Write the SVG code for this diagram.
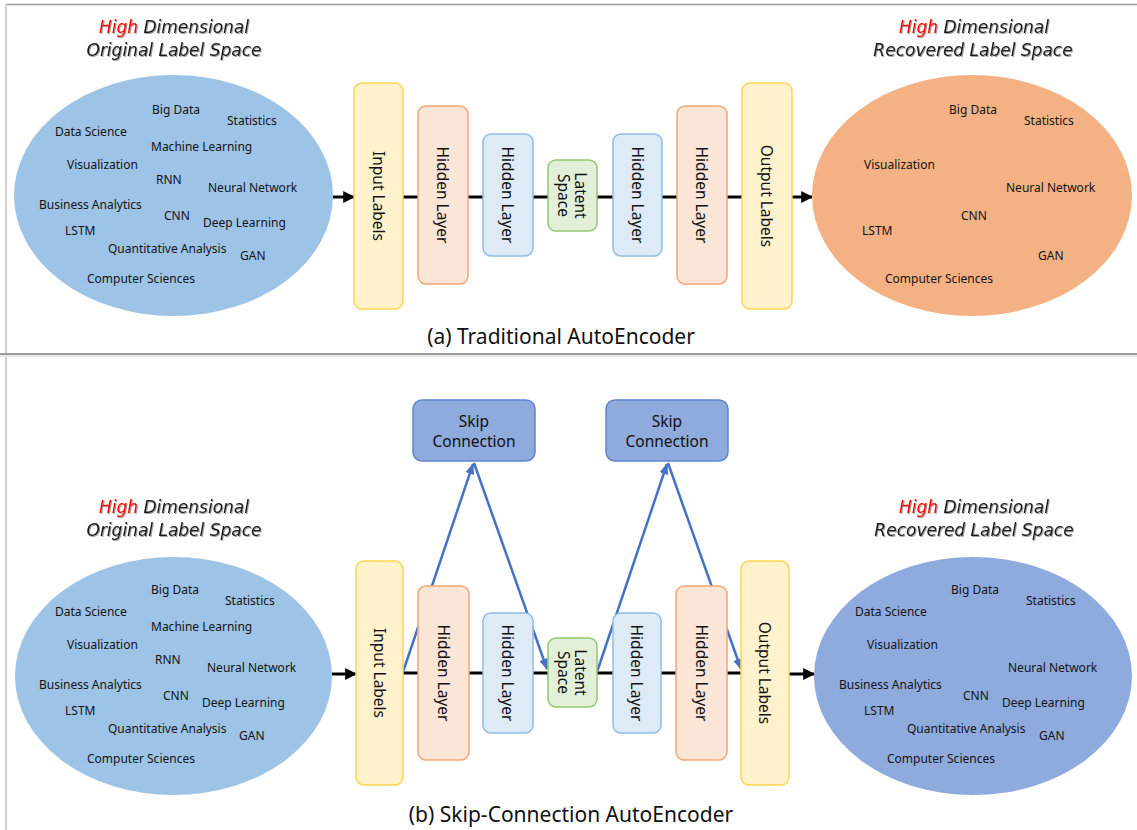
<svg xmlns="http://www.w3.org/2000/svg" width="1137" height="830" viewBox="0 0 1137 830">
  <defs>
    <style>
      .frame { stroke: #999; stroke-width: 1.5; fill: none; }
      .frame-side { stroke: #d0d0d0; stroke-width: 2; fill: none; }
      .word { font-family: "Noto Sans", "Open Sans", sans-serif; font-size: 12px; fill: #141414; }
      .title { font-family: "DejaVu Sans", "Liberation Sans", sans-serif; font-style: italic; font-size: 17px; fill: #1a1a1a; text-anchor: middle; }
      .hi { fill: #ff0000; }
      .caption { font-family: "Noto Sans", "Open Sans", sans-serif; font-size: 21px; fill: #111; text-anchor: middle; }
      .lbl { font-family: "Noto Sans", "Open Sans", sans-serif; font-size: 15.5px; fill: #111; text-anchor: middle; dominant-baseline: central; }
      .io { fill: #fff2cc; stroke: #ffd54f; stroke-width: 1.5; }
      .hid-o { fill: #fbe5d6; stroke: #f4a676; stroke-width: 1.5; }
      .hid-b { fill: #deebf7; stroke: #8fbde6; stroke-width: 1.5; }
      .lat { fill: #e2f0d9; stroke: #92c970; stroke-width: 1.5; }
      .skip { fill: #8faadc; stroke: #5f86d0; stroke-width: 1.5; }
      .main { stroke: #000; stroke-width: 3; fill: none; }
      .sk { stroke: #4472c4; stroke-width: 2.5; fill: none; }
    </style>
    <marker id="arrowBlack" viewBox="0 0 10 10" refX="9" refY="5" markerWidth="4" markerHeight="4" orient="auto" markerUnits="strokeWidth">
      <path d="M0,0 L10,5 L0,10 z" fill="#000"/>
    </marker>
    <marker id="arrowBlue" viewBox="0 0 10 10" refX="9" refY="5" markerWidth="4.5" markerHeight="4.5" orient="auto" markerUnits="strokeWidth">
      <path d="M0,1 L10,5 L0,9 z" fill="#4472c4"/>
    </marker>
    <filter id="shadow" x="-10%" y="-30%" width="120%" height="160%">
      <feDropShadow dx="1" dy="1" stdDeviation="0.6" flood-color="#777" flood-opacity="0.7"/>
    </filter>
  </defs>

  <rect width="1137" height="830" fill="#ffffff"/>

  <!-- panel frame and divider -->
  <line class="frame" x1="5" y1="4.5" x2="1137" y2="4.5"/>
  <line class="frame-side" x1="6" y1="4" x2="6" y2="830"/>
  <line x1="0" y1="354" x2="1137" y2="354" stroke="#999" stroke-width="1.8"/>
  <line x1="0" y1="356" x2="1137" y2="356" stroke="#e2e2e2" stroke-width="1.5"/>

  <!-- ===================== (a) Traditional AutoEncoder ===================== -->
  <g id="connectors-a">
    <line class="main" x1="333" y1="197" x2="354" y2="197" marker-end="url(#arrowBlack)"/>
    <line class="main" x1="403" y1="197" x2="742" y2="197"/>
    <line class="main" x1="792" y1="197" x2="812" y2="197" marker-end="url(#arrowBlack)"/>
  </g>

  <g id="a-original-space">
    <g filter="url(#shadow)">
      <text class="title" x="174" y="33"><tspan class="hi">High</tspan> Dimensional</text>
      <text class="title" x="174" y="56">Original Label Space</text>
    </g>
    <ellipse cx="173.5" cy="195.5" rx="159.5" ry="120.5" fill="#9dc3e6"/>
    <text class="word" x="152" y="114">Big Data</text>
    <text class="word" x="227" y="125">Statistics</text>
    <text class="word" x="55" y="136">Data Science</text>
    <text class="word" x="151" y="151">Machine Learning</text>
    <text class="word" x="67" y="169">Visualization</text>
    <text class="word" x="156" y="184">RNN</text>
    <text class="word" x="208" y="192">Neural Network</text>
    <text class="word" x="39" y="209">Business Analytics</text>
    <text class="word" x="164" y="220">CNN</text>
    <text class="word" x="203" y="227">Deep Learning</text>
    <text class="word" x="65" y="235">LSTM</text>
    <text class="word" x="108" y="253">Quantitative Analysis</text>
    <text class="word" x="240" y="260">GAN</text>
    <text class="word" x="87" y="283">Computer Sciences</text>
  </g>

  <g id="a-input">
    <rect class="io" x="354" y="83" width="49" height="226" rx="8"/>
    <text class="lbl" transform="translate(378.5,196) rotate(90)">Input Labels</text>
  </g>
  <g id="a-hidden1">
    <rect class="hid-o" x="418" y="106" width="50" height="178" rx="8"/>
    <text class="lbl" transform="translate(443,195) rotate(90)">Hidden Layer</text>
  </g>
  <g id="a-hidden2">
    <rect class="hid-b" x="483" y="134" width="50" height="122" rx="8"/>
    <text class="lbl" transform="translate(508,195) rotate(90)">Hidden Layer</text>
  </g>
  <g id="a-latent">
    <rect class="lat" x="548" y="160" width="49" height="71" rx="8"/>
    <text class="lbl" transform="translate(572.5,195.5) rotate(90)"><tspan x="0" y="-8">Latent</tspan><tspan x="0" y="9">Space</tspan></text>
  </g>
  <g id="a-hidden3">
    <rect class="hid-b" x="613" y="134" width="49" height="122" rx="8"/>
    <text class="lbl" transform="translate(637.5,195) rotate(90)">Hidden Layer</text>
  </g>
  <g id="a-hidden4">
    <rect class="hid-o" x="677" y="106" width="50" height="178" rx="8"/>
    <text class="lbl" transform="translate(702,195) rotate(90)">Hidden Layer</text>
  </g>
  <g id="a-output">
    <rect class="io" x="742" y="83" width="50" height="226" rx="8"/>
    <text class="lbl" transform="translate(767,196) rotate(90)">Output Labels</text>
  </g>

  <g id="a-recovered-space">
    <g filter="url(#shadow)">
      <text class="title" x="974" y="33"><tspan class="hi">High</tspan> Dimensional</text>
      <text class="title" x="973" y="56">Recovered Label Space</text>
    </g>
    <ellipse cx="972" cy="195.5" rx="160" ry="120.5" fill="#f4b183"/>
    <text class="word" x="949" y="114">Big Data</text>
    <text class="word" x="1024" y="125">Statistics</text>
    <text class="word" x="864" y="169">Visualization</text>
    <text class="word" x="1006" y="192">Neural Network</text>
    <text class="word" x="961" y="220">CNN</text>
    <text class="word" x="862" y="235">LSTM</text>
    <text class="word" x="1038" y="260">GAN</text>
    <text class="word" x="885" y="283">Computer Sciences</text>
  </g>

  <text class="caption" x="561" y="344">(a) Traditional AutoEncoder</text>

  <!-- ===================== (b) Skip-Connection AutoEncoder ===================== -->
  <g id="connectors-b">
    <line class="main" x1="332" y1="674" x2="356" y2="674" marker-end="url(#arrowBlack)"/>
    <line class="main" x1="403" y1="673" x2="741" y2="673"/>
    <line class="main" x1="789" y1="674" x2="814" y2="674" marker-end="url(#arrowBlack)"/>
    <line class="sk" x1="403" y1="672" x2="473" y2="464" marker-end="url(#arrowBlue)"/>
    <line class="sk" x1="474" y1="463" x2="547" y2="669" marker-end="url(#arrowBlue)"/>
    <line class="sk" x1="597" y1="672" x2="667" y2="464" marker-end="url(#arrowBlue)"/>
    <line class="sk" x1="668" y1="463" x2="741" y2="669" marker-end="url(#arrowBlue)"/>
  </g>

  <g id="b-original-space">
    <g filter="url(#shadow)">
      <text class="title" x="174" y="513"><tspan class="hi">High</tspan> Dimensional</text>
      <text class="title" x="174" y="536">Original Label Space</text>
    </g>
    <ellipse cx="173.5" cy="676" rx="158.5" ry="119" fill="#9dc3e6"/>
    <text class="word" x="151" y="594">Big Data</text>
    <text class="word" x="225" y="605">Statistics</text>
    <text class="word" x="55" y="616">Data Science</text>
    <text class="word" x="151" y="631">Machine Learning</text>
    <text class="word" x="67" y="649">Visualization</text>
    <text class="word" x="155" y="664">RNN</text>
    <text class="word" x="207" y="672">Neural Network</text>
    <text class="word" x="39" y="689">Business Analytics</text>
    <text class="word" x="163" y="700">CNN</text>
    <text class="word" x="202" y="707">Deep Learning</text>
    <text class="word" x="65" y="715">LSTM</text>
    <text class="word" x="108" y="733">Quantitative Analysis</text>
    <text class="word" x="239" y="740">GAN</text>
    <text class="word" x="87" y="763">Computer Sciences</text>
  </g>

  <g id="b-input">
    <rect class="io" x="356" y="561" width="47" height="224" rx="8"/>
    <text class="lbl" transform="translate(379.5,673) rotate(90)">Input Labels</text>
  </g>
  <g id="b-hidden1">
    <rect class="hid-o" x="418" y="586" width="51" height="174" rx="8"/>
    <text class="lbl" transform="translate(443.5,673) rotate(90)">Hidden Layer</text>
  </g>
  <g id="b-hidden2">
    <rect class="hid-b" x="483" y="613" width="50" height="120" rx="8"/>
    <text class="lbl" transform="translate(508,673) rotate(90)">Hidden Layer</text>
  </g>
  <g id="b-latent">
    <rect class="lat" x="548" y="638" width="49" height="69" rx="8"/>
    <text class="lbl" transform="translate(572.5,672.5) rotate(90)"><tspan x="0" y="-8">Latent</tspan><tspan x="0" y="9">Space</tspan></text>
  </g>
  <g id="b-hidden3">
    <rect class="hid-b" x="613" y="613" width="48" height="120" rx="8"/>
    <text class="lbl" transform="translate(637,673) rotate(90)">Hidden Layer</text>
  </g>
  <g id="b-hidden4">
    <rect class="hid-o" x="676" y="586" width="51" height="174" rx="8"/>
    <text class="lbl" transform="translate(701.5,673) rotate(90)">Hidden Layer</text>
  </g>
  <g id="b-output">
    <rect class="io" x="741" y="561" width="48" height="224" rx="8"/>
    <text class="lbl" transform="translate(765,673) rotate(90)">Output Labels</text>
  </g>

  <g id="b-skip1">
    <rect class="skip" x="413" y="400" width="122" height="61" rx="9"/>
    <text class="lbl"><tspan x="474" y="421">Skip</tspan><tspan x="474" y="441">Connection</tspan></text>
  </g>
  <g id="b-skip2">
    <rect class="skip" x="606" y="400" width="122" height="61" rx="9"/>
    <text class="lbl"><tspan x="667" y="421">Skip</tspan><tspan x="667" y="441">Connection</tspan></text>
  </g>

  <g id="b-recovered-space">
    <g filter="url(#shadow)">
      <text class="title" x="974" y="513"><tspan class="hi">High</tspan> Dimensional</text>
      <text class="title" x="974" y="536">Recovered Label Space</text>
    </g>
    <ellipse cx="973" cy="676" rx="159" ry="119" fill="#8faadc"/>
    <text class="word" x="951" y="594">Big Data</text>
    <text class="word" x="1026" y="605">Statistics</text>
    <text class="word" x="855" y="616">Data Science</text>
    <text class="word" x="867" y="649">Visualization</text>
    <text class="word" x="1008" y="672">Neural Network</text>
    <text class="word" x="839" y="689">Business Analytics</text>
    <text class="word" x="963" y="700">CNN</text>
    <text class="word" x="1002" y="707">Deep Learning</text>
    <text class="word" x="864" y="715">LSTM</text>
    <text class="word" x="907" y="733">Quantitative Analysis</text>
    <text class="word" x="1039" y="740">GAN</text>
    <text class="word" x="887" y="763">Computer Sciences</text>
  </g>

  <text class="caption" x="571" y="822">(b) Skip-Connection AutoEncoder</text>
</svg>
